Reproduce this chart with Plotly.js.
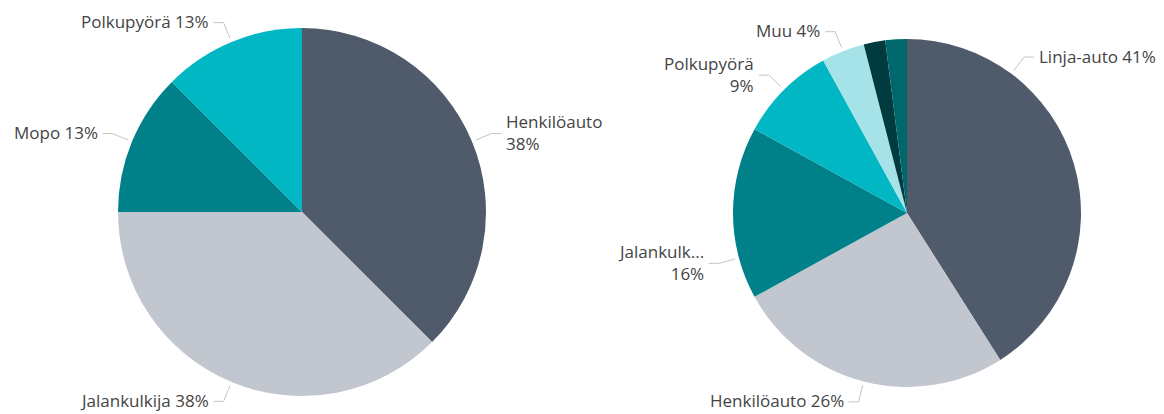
<!DOCTYPE html>
<html>
<head>
<meta charset="utf-8">
<script src="https://cdn.plot.ly/plotly-3.0.1.min.js"></script>
<style>
  html, body { margin: 0; padding: 0; background: #ffffff; }
  #chart { width: 1164px; height: 414px; }
</style>
</head>
<body>
<div id="chart"></div>
<script>
// ---- Data: left pie ----
const leftCategories = ["Henkilöauto", "Jalankulkija", "Mopo", "Polkupyörä"];
const leftValues = [3, 3, 1, 1];
const leftShownLabels = ["Henkilöauto", "Jalankulkija", "Mopo", "Polkupyörä"];

// ---- Data: right pie ----
const rightCategories = ["Linja-auto", "Henkilöauto", "Jalankulkija", "Polkupyörä", "Muu", "Moottoripyörä", "Mopo"];
const rightValues = [41, 26, 16, 9, 4, 2, 2];
const rightShownLabels = ["Linja-auto", "Henkilöauto", "Jalankulk...", "Polkupyörä", "Muu", "", ""];

// ---- Styles ----
const W = 1164, H = 414;
const leftColors = ["#4f5b6b", "#c1c6cf", "#00818a", "#00b7c3"];
const rightColors = ["#4f5b6b", "#c1c6cf", "#00818a", "#00b7c3", "#a6e3e8", "#003b3f", "#00686d"];
const textColor = "#444444";
const lineColor = "#c4c4c4";
const FONT = "Open Sans, DejaVu Sans, sans-serif";
const FSIZE = 17;

// pie boxes in pixels
const leftBox = {x0: 118, x1: 486, y0: 28, y1: 396};
const rightBox = {x0: 733, x1: 1081, y0: 39, y1: 387};

// label layout per slice: where along slice the leader attaches, two-line?
const leftLabelCfg = [
  {frac: 0.5, twoLine: true},
  {frac: 0.5, twoLine: false},
  {frac: 0.5, twoLine: false},
  {frac: 0.5, twoLine: false}
];
const rightLabelCfg = [
  {frac: 0.25, twoLine: false},
  {frac: 0.5, twoLine: false},
  {frac: 0.24, twoLine: true},
  {frac: 0.5, twoLine: true},
  {frac: 0.5, twoLine: false},
  null, null
];

function domainOf(b) {
  return {x: [b.x0 / W, b.x1 / W], y: [1 - b.y1 / H, 1 - b.y0 / H]};
}

function pieTrace(cats, vals, colors, box) {
  return {
    type: "pie",
    labels: cats,
    values: vals,
    sort: false,
    direction: "clockwise",
    rotation: 0,
    textinfo: "none",
    hoverinfo: "label+percent",
    marker: {colors: colors, line: {width: 0}},
    domain: domainOf(box),
    showlegend: false
  };
}

const shapes = [];
const annotations = [];

function px2x(p) { return p / W; }
function px2y(p) { return 1 - p / H; }

function addLabels(vals, shown, cfgs, box) {
  const cx = (box.x0 + box.x1) / 2, cy = (box.y0 + box.y1) / 2;
  const r = Math.min(box.x1 - box.x0, box.y1 - box.y0) / 2;
  const total = vals.reduce((a, b) => a + b, 0);
  let cum = 0;
  vals.forEach((v, i) => {
    const start = cum / total * 360;
    cum += v;
    const end = cum / total * 360;
    const cfg = cfgs[i];
    if (!cfg || !shown[i]) return;
    const ang = (start + (end - start) * cfg.frac) * Math.PI / 180;
    const sx = Math.sin(ang), sy = -Math.cos(ang);
    const p0 = [cx + (r + 4) * sx, cy + (r + 4) * sy];
    const p1 = [cx + (r + 21) * sx, cy + (r + 21) * sy];
    const right = sx >= 0;
    const p2 = [p1[0] + (right ? 10 : -10), p1[1]];
    shapes.push({
      type: "path", xref: "paper", yref: "paper",
      path: `M ${px2x(p0[0])} ${px2y(p0[1])} L ${px2x(p1[0])} ${px2y(p1[1])} L ${px2x(p2[0])} ${px2y(p2[1])}`,
      line: {color: lineColor, width: 1}
    });
    const pct = Math.round(v / total * 100) + "%";
    const txt = cfg.twoLine ? shown[i] + "<br>" + pct : shown[i] + " " + pct;
    annotations.push({
      xref: "paper", yref: "paper",
      x: px2x(p2[0] + (right ? 3 : -3)), y: px2y(p1[1] - 1),
      xanchor: right ? "left" : "right", yanchor: "middle",
      align: right ? "left" : "right",
      text: txt, showarrow: false,
      font: {family: FONT, size: FSIZE, color: textColor}
    });
  });
}

addLabels(leftValues, leftShownLabels, leftLabelCfg, leftBox);
addLabels(rightValues, rightShownLabels, rightLabelCfg, rightBox);

const data = [
  pieTrace(leftCategories, leftValues, leftColors, leftBox),
  pieTrace(rightCategories, rightValues, rightColors, rightBox)
];

const layout = {
  width: W, height: H,
  margin: {l: 0, r: 0, t: 0, b: 0, pad: 0},
  paper_bgcolor: "#ffffff",
  plot_bgcolor: "#ffffff",
  font: {family: FONT, size: FSIZE, color: textColor},
  shapes: shapes,
  annotations: annotations,
  showlegend: false
};

Plotly.newPlot("chart", data, layout, {displayModeBar: false, staticPlot: true});
</script>
</body>
</html>
